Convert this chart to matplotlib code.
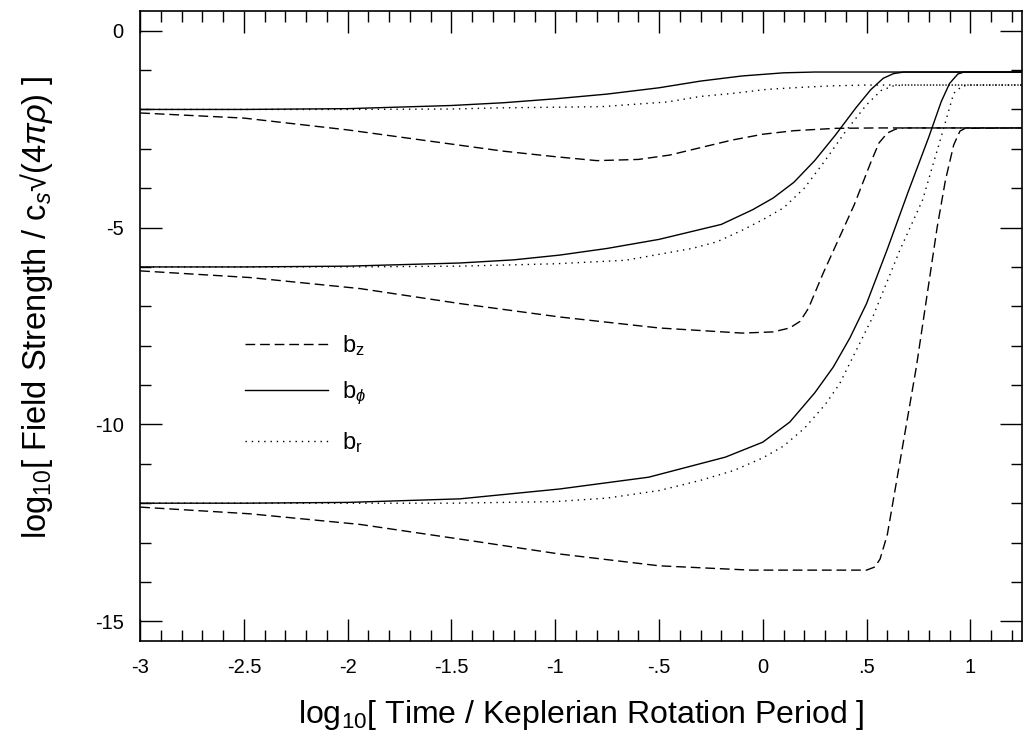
#!/usr/bin/env python3
"""
Field strength growth: b_z, b_phi, b_r for three initial seed fields
"""

import matplotlib
matplotlib.use('Agg')
import matplotlib.pyplot as plt
from matplotlib.ticker import MultipleLocator, FixedLocator, FixedFormatter

plt.rcParams['font.family'] = ['Liberation Sans', 'DejaVu Sans']
plt.rcParams['mathtext.fontset'] = 'custom'
plt.rcParams['mathtext.rm'] = 'Liberation Sans'
plt.rcParams['mathtext.it'] = 'Liberation Sans:italic'

# ---- data (x = log10 t, y = log10 b) ----
# seed -2
bphi1_x = [-3, -2.5, -2.0, -1.5, -1.25, -1.0, -0.75, -0.5, -0.3, -0.1, 0.1, 0.25, 1.25]
bphi1_y = [-2.0, -2.0, -1.98, -1.9, -1.83, -1.73, -1.61, -1.45, -1.28, -1.15, -1.07, -1.05, -1.05]
br1_x = [-3, -2.0, -1.5, -1.27, -0.78, -0.46, -0.3, -0.14, 0.02, 0.18, 0.34, 0.5, 1.25]
br1_y = [-2.0, -2.0, -1.99, -1.96, -1.93, -1.81, -1.67, -1.59, -1.49, -1.44, -1.4, -1.38, -1.38]
bz1_x = [-3, -2.5, -2.0, -1.5, -1.25, -1.0, -0.8, -0.6, -0.45, -0.3, -0.15, 0.0, 0.15, 0.35, 0.55, 1.25]
bz1_y = [-2.09, -2.22, -2.52, -2.88, -3.06, -3.2, -3.3, -3.27, -3.16, -2.97, -2.78, -2.63, -2.54, -2.48, -2.47, -2.47]

# seed -6
bphi2_x = [-3, -2.5, -2.0, -1.46, -1.2, -0.98, -0.75, -0.5, -0.2, -0.05, 0.05, 0.15, 0.25,
           0.35, 0.45, 0.52, 0.58, 0.63, 0.68, 1.25]
bphi2_y = [-6.0, -6.0, -5.98, -5.9, -5.82, -5.7, -5.53, -5.3, -4.92, -4.55, -4.25, -3.85, -3.3,
           -2.65, -1.95, -1.5, -1.21, -1.09, -1.05, -1.05]
br2_x = [-3, -2.0, -1.46, -1.0, -0.66, -0.34, -0.22, -0.1, 0.0, 0.1, 0.2, 0.3, 0.4, 0.5,
         0.57, 0.63, 0.68, 1.25]
br2_y = [-6.0, -6.0, -5.98, -5.92, -5.83, -5.53, -5.36, -5.07, -4.8, -4.5, -4.0, -3.3, -2.55, -1.88,
         -1.52, -1.4, -1.38, -1.38]
bz2_x = [-3, -2.47, -1.94, -1.46, -0.98, -0.5, -0.1, 0.05, 0.13, 0.18, 0.22, 0.29, 0.44,
         0.52, 0.56, 0.6, 0.64, 0.68, 1.25]
bz2_y = [-6.1, -6.27, -6.55, -6.93, -7.27, -7.55, -7.68, -7.65, -7.55, -7.38, -7.05, -6.17, -4.43,
         -3.35, -2.85, -2.6, -2.5, -2.47, -2.47]

# seed -12
bphi3_x = [-3, -2.5, -2.0, -1.46, -0.98, -0.55, -0.18, 0.0, 0.13, 0.25, 0.34, 0.42, 0.5, 0.6,
           0.7, 0.8, 0.86, 0.9, 0.94, 0.97, 1.25]
bphi3_y = [-12.0, -12.0, -11.98, -11.89, -11.64, -11.34, -10.83, -10.45, -9.94, -9.2, -8.54, -7.8,
           -6.93, -5.55, -4.1, -2.7, -1.8, -1.34, -1.1, -1.05, -1.05]
br3_x = [-3, -2.0, -1.5, -1.0, -0.75, -0.5, -0.3, -0.14, 0.0, 0.1, 0.2, 0.3, 0.37, 0.53, 0.66,
         0.77, 0.855, 0.92, 0.96, 1.0, 1.25]
br3_y = [-12.0, -12.0, -12.0, -11.96, -11.87, -11.68, -11.42, -11.17, -10.85, -10.55, -10.1, -9.5,
         -8.97, -7.27, -5.58, -4.3, -2.78, -1.59, -1.41, -1.38, -1.38]
bz3_x = [-3, -2.47, -1.94, -1.41, -0.98, -0.5, -0.06, 0.5, 0.54, 0.565, 0.6, 0.74, 0.84, 0.88,
         0.92, 0.95, 0.975, 1.25]
bz3_y = [-12.1, -12.27, -12.54, -12.95, -13.29, -13.59, -13.7, -13.7, -13.62, -13.42, -12.8, -8.54,
         -5.0, -3.8, -2.9, -2.55, -2.48, -2.47]

x_ticks = [-3, -2.5, -2, -1.5, -1, -0.5, 0, 0.5, 1]
x_labels = ['-3', '-2.5', '-2', '-1.5', '-1', '-.5', '0', '.5', '1']
y_ticks = [0, -5, -10, -15]
y_labels = ['0', '-5', '-10', '-15']

DASH = (0, (7, 3.5))
DOT = (0, (1, 3.5))


def main():
    fig = plt.figure(figsize=(10.23, 7.33), dpi=100)
    ax = fig.add_axes([140.2 / 1023, 92 / 733, 882 / 1023, 630 / 733])

    kw = dict(color='black', lw=1.0)
    ax.plot(bz1_x, bz1_y, linestyle=DASH, label=r'b$_\mathrm{z}$', **kw)
    ax.plot(bphi1_x, bphi1_y, linestyle='-', label=r'b$_\phi$', **kw)
    ax.plot(br1_x, br1_y, linestyle=DOT, label=r'b$_\mathrm{r}$', **kw)
    ax.plot(bz2_x, bz2_y, linestyle=DASH, **kw)
    ax.plot(bphi2_x, bphi2_y, linestyle='-', **kw)
    ax.plot(br2_x, br2_y, linestyle=DOT, **kw)
    ax.plot(bz3_x, bz3_y, linestyle=DASH, **kw)
    ax.plot(bphi3_x, bphi3_y, linestyle='-', **kw)
    ax.plot(br3_x, br3_y, linestyle=DOT, **kw)

    ax.set_xlim(-3, 1.25)
    ax.set_ylim(-15.5, 0.5)

    ax.xaxis.set_major_locator(FixedLocator(x_ticks))
    ax.xaxis.set_major_formatter(FixedFormatter(x_labels))
    ax.xaxis.set_minor_locator(MultipleLocator(0.1))
    ax.yaxis.set_major_locator(FixedLocator(y_ticks))
    ax.yaxis.set_major_formatter(FixedFormatter(y_labels))
    ax.yaxis.set_minor_locator(MultipleLocator(1))

    ax.tick_params(which='both', direction='in', top=True, right=True,
                   width=1.0, labelsize=14.5)
    ax.tick_params(which='major', length=16, pad=12)
    ax.tick_params(which='minor', length=8)
    for s in ax.spines.values():
        s.set_linewidth(1.2)

    ax.set_xlabel(r'log$_{10}$[ Time / Keplerian Rotation Period ]', fontsize=23)
    ax.xaxis.set_label_coords(0.5, -0.117)
    ax.xaxis.label.set_va('center')
    ax.set_ylabel(r'log$_{10}$[ Field Strength / c$_s$√(4$\pi\rho$) ]', fontsize=23.5)
    ax.yaxis.set_label_coords(-0.118, 0.53)
    ax.yaxis.label.set_va('center')

    ax.legend(loc='upper left', bbox_to_anchor=(0.106, 0.508), frameon=False,
              fontsize=17, handlelength=3.5, handletextpad=0.6,
              labelspacing=0.95, borderpad=0)

    fig.savefig('out.png', dpi=100)
    plt.close(fig)


if __name__ == "__main__":
    main()
